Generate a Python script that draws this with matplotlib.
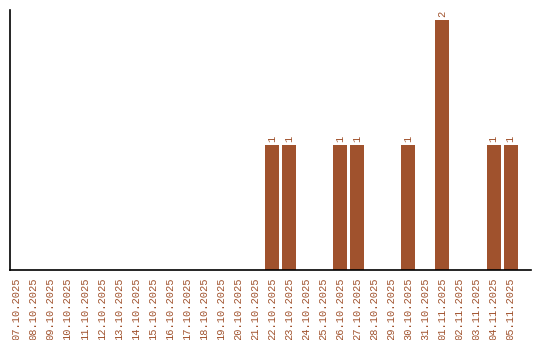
import matplotlib
matplotlib.use("Agg")
import matplotlib.pyplot as plt

dates = ["07.10.2025", "08.10.2025", "09.10.2025", "10.10.2025", "11.10.2025",
         "12.10.2025", "13.10.2025", "14.10.2025", "15.10.2025", "16.10.2025",
         "17.10.2025", "18.10.2025", "19.10.2025", "20.10.2025", "21.10.2025",
         "22.10.2025", "23.10.2025", "24.10.2025", "25.10.2025", "26.10.2025",
         "27.10.2025", "28.10.2025", "29.10.2025", "30.10.2025", "31.10.2025",
         "01.11.2025", "02.11.2025", "03.11.2025", "04.11.2025", "05.11.2025"]
counts = [0, 0, 0, 0, 0, 0, 0, 0, 0, 0, 0, 0, 0, 0, 0,
          1, 1, 0, 0, 1, 1, 0, 0, 1, 0, 2, 0, 0, 1, 1]

color = "#a0522d"
plt.rcParams["font.family"] = ["Liberation Mono", "DejaVu Sans Mono"]

fig = plt.figure(figsize=(5.4, 3.4), dpi=100)
ax = fig.add_axes([10 / 540, 70 / 340, 521 / 540, 260 / 340])

x = list(range(len(dates)))
ax.bar(x, counts, width=0.82, color=color)
for xi, c in zip(x, counts):
    if c > 0:
        ax.annotate(str(c), (xi, c), xytext=(0, 2), textcoords="offset points",
                    rotation=90, ha="center", va="bottom", color=color, fontsize=7.5)

ax.set_xlim(-0.39, 30.2)
ax.set_ylim(0, 2.08)
ax.set_xticks(x)
ax.set_xticklabels(dates, rotation=90, color=color, fontsize=7.5)
ax.tick_params(axis="x", length=0, pad=5.5)
ax.set_yticks([])
for s in ["top", "right"]:
    ax.spines[s].set_visible(False)
for s in ["left", "bottom"]:
    ax.spines[s].set_linewidth(1.2)

fig.savefig("out.png", dpi=100)
